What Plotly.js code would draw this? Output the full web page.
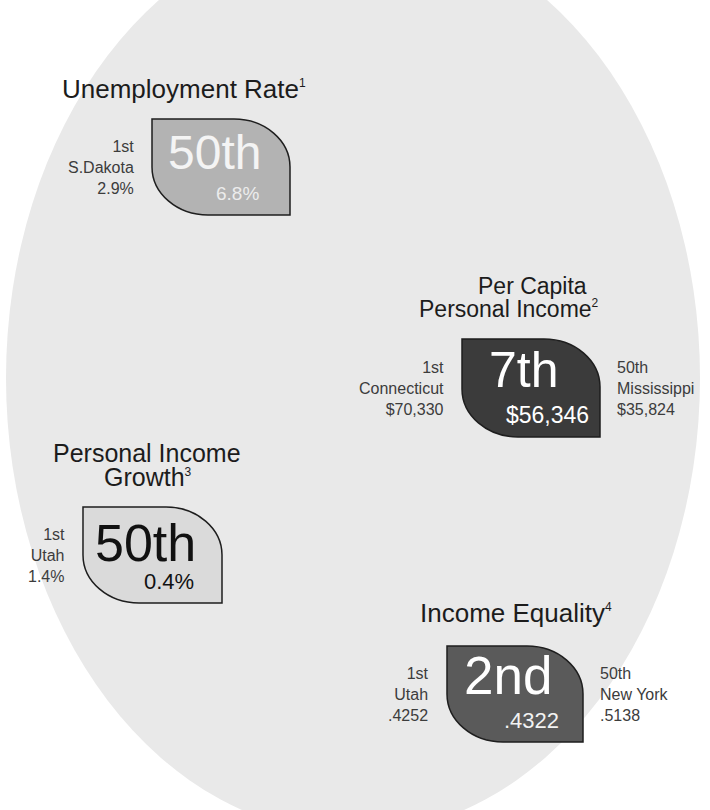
<!DOCTYPE html>
<html>
<head>
<meta charset="utf-8">
<script src="https://cdn.plot.ly/plotly-3.0.1.min.js"></script>
<style>
  html, body { margin: 0; padding: 0; background: #ffffff; }
  #chart { width: 710px; height: 810px; }
</style>
</head>
<body>
<div id="chart"></div>
<script>
/* ---- Data ---- */
const metrics = ['Unemployment Rate|1', 'Per Capita<br>Personal Income|2',
  'Personal Income<br>Growth|3', 'Income Equality|4'];
const ranks = ['50th', '7th', '50th', '2nd'];
const values = ['6.8%', '$56,346', '0.4%', '.4322'];
const firstStates = ['S.Dakota', 'Connecticut', 'Utah', 'Utah'];
const firstValues = ['2.9%', '$70,330', '1.4%', '.4252'];
const lastStates = [null, 'Mississippi', null, 'New York'];
const lastValues = [null, '$35,824', null, '.5138'];

/* ---- Layout of the badges (page pixels, y down) ---- */
const boxes = [
  { x0: 152, y0: 119, x1: 290, y1: 215, fill: '#b3b3b3', ink: '#f4f4f4', inkSub: '#ececec',
    rankSize: 48, rankY: 0.35, subSize: 19,
    title: { x: [184], y: [89], size: 26 } },
  { x0: 462, y0: 339, x1: 600, y1: 437, fill: '#3b3b3b', ink: '#ffffff', inkSub: '#ffffff',
    rankSize: 50, rankY: 0.32, subSize: 23,
    title: { x: [532, 509], y: [286, 309], size: 23 } },
  { x0: 83, y0: 507, x1: 222, y1: 603, fill: '#dadada', ink: '#111111', inkSub: '#111111',
    rankSize: 52, rankY: 0.37, subSize: 22,
    title: { x: [147, 148], y: [453, 477], size: 25 } },
  { x0: 447, y0: 646, x1: 583, y1: 742, fill: '#5a5a5a', ink: '#ffffff', inkSub: '#f2f2f2',
    rankSize: 53, rankY: 0.31, subSize: 22,
    title: { x: [516], y: [613], size: 26 } }
];

const FONT = 'Liberation Sans, Arial, Helvetica, sans-serif';
const K = 0.5523;

// leaf badge: square top-left / bottom-right, rounded top-right / bottom-left
function leafPath(b, rx, ry) {
  const { x0, y0, x1, y1 } = b;
  return `M${x0},${y0} L${x1 - rx},${y0} ` +
    `C${x1 - rx + K * rx},${y0} ${x1},${y0 + ry - K * ry} ${x1},${y0 + ry} ` +
    `L${x1},${y1} L${x0 + rx},${y1} ` +
    `C${x0 + rx - K * rx},${y1} ${x0},${y1 - ry + K * ry} ${x0},${y1 - ry} Z`;
}

const shapes = [{
  type: 'circle', xref: 'x', yref: 'y', layer: 'below',
  x0: 6, x1: 700, y0: -78, y1: 834,
  fillcolor: '#e9e9e9', line: { width: 0 }
}];

const annotations = [];
const ann = (x, y, text, size, color, xanchor, extra) => annotations.push(Object.assign({
  xref: 'x', yref: 'y', x, y, text, showarrow: false, xanchor, yanchor: 'middle',
  font: { family: FONT, size, color }
}, extra || {}));

boxes.forEach((b, i) => {
  shapes.push({
    type: 'path', xref: 'x', yref: 'y', path: leafPath(b, 56, 48),
    fillcolor: b.fill, line: { color: '#1e1e1e', width: 1.5 }
  });

  // title lines, tight leading, small footnote mark on the last line
  const [label, note] = metrics[i].split('|');
  const lines = label.split('<br>');
  lines.forEach((line, j) => {
    const txt = j === lines.length - 1
      ? `${line}<sup><span style="font-size:12px">${note}</span></sup>` : line;
    ann(b.title.x[j], b.title.y[j], txt, b.title.size, '#1c1c1c', 'center');
  });

  const w = b.x1 - b.x0, h = b.y1 - b.y0;
  ann(b.x0 + w * 0.45, b.y0 + h * b.rankY, ranks[i], b.rankSize, b.ink, 'center');
  ann(b.x0 + w * 0.62, b.y0 + h * 0.78, values[i], b.subSize, b.inkSub, 'center');

  const midY = b.y0 + h * 0.5;
  ann(b.x0 - 16, midY, `1st<br>${firstStates[i]}<br>${firstValues[i]}`, 16, '#3c3c3c', 'right',
    { align: 'right' });
  if (lastStates[i]) {
    ann(b.x1 + 15, midY, `50th<br>${lastStates[i]}<br>${lastValues[i]}`, 16, '#3c3c3c', 'left',
      { align: 'left' });
  }
});

const axis = { visible: false, fixedrange: true, showgrid: false, zeroline: false };

Plotly.newPlot('chart', [], {
  width: 710, height: 810,
  margin: { t: 0, l: 0, r: 0, b: 0 },
  paper_bgcolor: '#ffffff', plot_bgcolor: '#ffffff',
  xaxis: Object.assign({ range: [0, 710] }, axis),
  yaxis: Object.assign({ range: [810, 0] }, axis),
  shapes, annotations, showlegend: false
}, { displayModeBar: false, staticPlot: true });
</script>
</body>
</html>
